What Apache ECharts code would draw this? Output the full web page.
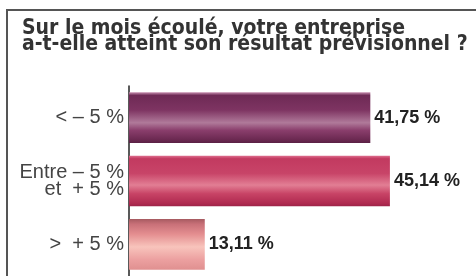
<!DOCTYPE html>
<html>
<head>
<meta charset="utf-8">
<script src="https://cdn.jsdelivr.net/npm/echarts@6/dist/echarts.min.js"></script>
<style>
  html, body { margin: 0; padding: 0; background: #fff; }
  #main { width: 476px; height: 276px; }
</style>
</head>
<body>
<div id="main"></div>
<script>
// données du graphique
const categories = ['< – 5 %', 'Entre – 5 %\net  + 5 %', '>  + 5 %'];
const values = [41.75, 45.14, 13.11];
const valueLabels = ['41,75 %', '45,14 %', '13,11 %'];

let myChart = echarts.init(document.getElementById('main'));

// dégradés "brillants" pour chaque barre
function gloss(stops) {
	return new echarts.graphic.LinearGradient(0, 0, 0, 1,
		stops.map(c => ({ offset: c[0], color: c[1] })));
}
const barColors = [
	gloss([[0, '#c88fb0'], [0.06, '#6e2a55'], [0.35, '#7e3462'], [0.6, '#b07a9a'], [0.75, '#8a3e6c'], [0.94, '#6a2850'], [1, '#5a2045']]),
	gloss([[0, '#e07090'], [0.06, '#c23a60'], [0.35, '#c84468'], [0.58, '#e27e94'], [0.75, '#c84466'], [0.94, '#b02a50'], [1, '#9c2448']]),
	gloss([[0, '#a65a60'], [0.1, '#c87078'], [0.3, '#e48e90'], [0.55, '#f8c4bc'], [0.8, '#eca0a0'], [1, '#e09090']])
];

let option = {
	animation: false,
	graphic: [
		{
			type: 'rect',
			shape: { x: 7, y: 10, width: 480, height: 280 },
			style: { fill: 'none', stroke: '#555', lineWidth: 2 }
		},
		{
			type: 'text',
			left: 22,
			top: 18,
			style: {
				text: 'Sur le mois écoulé, votre entreprise\na-t-elle atteint son résultat prévisionnel ?',
				font: 'bold 21px "DejaVu Sans Condensed", "DejaVu Sans", sans-serif',
				fill: '#333',
				lineHeight: 16
			}
		}
	],
	grid: {
		left: 129,
		width: 289,
		top: 86,
		bottom: -7
	},
	xAxis: {
		type: 'value',
		min: 0,
		max: 50,
		show: false
	},
	yAxis: {
		type: 'category',
		inverse: true,
		data: categories,
		axisLine: { lineStyle: { color: '#222', width: 1.5 } },
		axisTick: { show: false },
		axisLabel: {
			margin: 5,
			color: '#444',
			fontSize: 20,
			lineHeight: 17,
			align: 'right',
			fontFamily: '"Liberation Sans", sans-serif'
		}
	},
	series: [
		{
			type: 'bar',
			barCategoryGap: '20%',
			data: values.map((v, i) => ({
				value: v,
				itemStyle: { color: barColors[i] }
			})),
			label: {
				show: true,
				position: 'right',
				distance: 4,
				color: '#222',
				fontSize: 18,
				fontWeight: 'bold',
				fontFamily: '"Liberation Sans Narrow", "Liberation Sans", sans-serif',
				formatter: p => valueLabels[p.dataIndex]
			}
		}
	]
};

myChart.setOption(option);
</script>
</body>
</html>
